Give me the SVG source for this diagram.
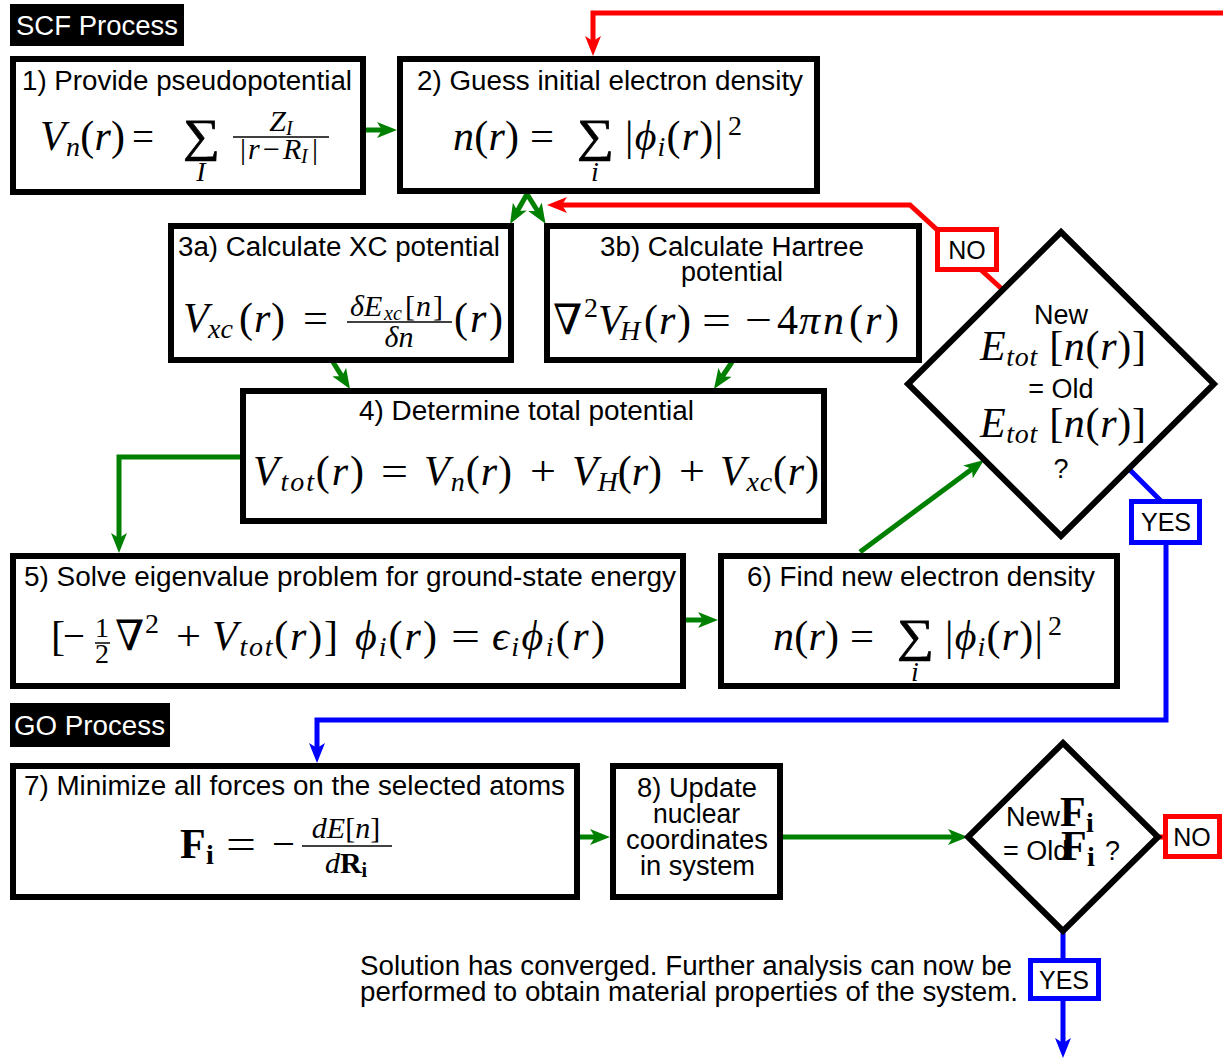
<svg xmlns="http://www.w3.org/2000/svg" width="1223" height="1061" viewBox="0 0 1223 1061">
<style>
.box{fill:#fff;stroke:#000;stroke-width:6}
.t{font-family:"Liberation Sans",Arial,sans-serif;font-size:27px;fill:#000}
.lbl{font-family:"Liberation Sans",Arial,sans-serif;font-size:27px;fill:#fff}
.m{font-family:"Liberation Serif","DejaVu Serif",serif;font-size:42px;font-style:italic;fill:#000}
.u{font-style:normal}
.s{font-size:28px}
.ss{font-size:20px}
.f{font-size:30px}
.bf{font-weight:bold;font-style:normal}
.sym{font-family:"Liberation Serif","DejaVu Serif",serif;font-size:46px;font-style:normal;stroke:#000;stroke-width:0.7}
.fl{stroke:#000;stroke-width:1.5}
.g{stroke:#008000;stroke-width:5;fill:none}
.r{stroke:#ff0000;stroke-width:5;fill:none}
.b{stroke:#0000ff;stroke-width:5;fill:none}
.rb{fill:#fff;stroke:#ff0000;stroke-width:5}
.bb{fill:#fff;stroke:#0000ff;stroke-width:5}
.yn{font-family:"Liberation Sans",Arial,sans-serif;font-size:25px;fill:#000;text-anchor:middle}
</style>
<defs>
<marker id="ag" markerUnits="userSpaceOnUse" markerWidth="22" markerHeight="16" refX="5" refY="8" orient="auto"><path d="M0,0 L20,8 L0,16 L5,8 z" fill="#008000"/></marker>
<marker id="ar" markerUnits="userSpaceOnUse" markerWidth="22" markerHeight="16" refX="5" refY="8" orient="auto"><path d="M0,0 L20,8 L0,16 L5,8 z" fill="#ff0000"/></marker>
<marker id="ab" markerUnits="userSpaceOnUse" markerWidth="22" markerHeight="16" refX="5" refY="8" orient="auto"><path d="M0,0 L20,8 L0,16 L5,8 z" fill="#0000ff"/></marker>
</defs>
<rect width="1223" height="1061" fill="#fff"/>

<g id="connectors">
<path class="g" d="M366,130 H382" marker-end="url(#ag)"/>
<path class="r" d="M1223,13 H593 V41" marker-end="url(#ar)"/>
<path class="g" d="M527,194 L517.4,211" marker-end="url(#ag)"/>
<path class="g" d="M527,194 L537.6,211" marker-end="url(#ag)"/>
<path class="r" d="M1003,290 L910,205 H562" marker-end="url(#ar)"/>
<path class="g" d="M333,362 L342,376.3" marker-end="url(#ag)"/>
<path class="g" d="M732,362 L722.3,376.5" marker-end="url(#ag)"/>
<path class="g" d="M240,457 H119 V538" marker-end="url(#ag)"/>
<path class="g" d="M686,620 H703" marker-end="url(#ag)"/>
<path class="g" d="M860,552 L972,468.9" marker-end="url(#ag)"/>
<path class="b" d="M1127,467 L1166,506 V720 H317 V748" marker-end="url(#ab)"/>
<path class="g" d="M580,837 H595" marker-end="url(#ag)"/>
<path class="g" d="M783,837 H953" marker-end="url(#ag)"/>
<path class="r" d="M1158,837 H1166"/>
<path class="b" d="M1063,932 V1043" marker-end="url(#ab)"/>
</g>

<g id="scf-label">
<rect x="10" y="4" width="174" height="42" fill="#000"/>
<text class="lbl" x="16" y="35" textLength="162" lengthAdjust="spacingAndGlyphs">SCF Process</text>
</g>

<g id="node1">
<rect class="box" x="13" y="59" width="350" height="133"/>
<text class="t" x="22" y="90" textLength="330" lengthAdjust="spacingAndGlyphs">1) Provide pseudopotential</text>
<text class="m" x="40" y="150" textLength="85">V<tspan class="s" dy="6">n</tspan><tspan class="u" dy="-6">(</tspan>r<tspan class="u">)</tspan></text>
<text class="m u" x="132" y="150" textLength="22" lengthAdjust="spacingAndGlyphs">=</text>
<text class="sym" x="183" y="151" textLength="37" lengthAdjust="spacingAndGlyphs">∑</text>
<text class="m s" x="201" y="181" text-anchor="middle">I</text>
<text class="m f" x="281" y="131" text-anchor="middle">Z<tspan class="ss" dy="4">I</tspan></text>
<line class="fl" x1="233" y1="137" x2="329" y2="137"/>
<text class="m f" y="159"><tspan class="u" x="240">|</tspan><tspan x="248">r</tspan><tspan class="u" x="263">−</tspan><tspan x="283">R</tspan><tspan class="ss" x="301" dy="4">I</tspan><tspan class="u" x="312" dy="-4">|</tspan></text>
</g>

<g id="node2">
<rect class="box" x="400" y="59" width="417" height="132"/>
<text class="t" x="417" y="90" textLength="386" lengthAdjust="spacingAndGlyphs">2) Guess initial electron density</text>
<text class="m" x="453" y="150" textLength="66">n<tspan class="u">(</tspan>r<tspan class="u">)</tspan></text>
<text class="m u" x="530" y="150" textLength="24" lengthAdjust="spacingAndGlyphs">=</text>
<text class="sym" x="577" y="151" textLength="37" lengthAdjust="spacingAndGlyphs">∑</text>
<text class="m s" x="595" y="181" text-anchor="middle">i</text>
<text class="m" x="625" y="150" textLength="98"><tspan class="u">|</tspan>ϕ<tspan class="s" dy="6">i</tspan><tspan class="u" dy="-6">(</tspan>r<tspan class="u">)|</tspan></text>
<text class="m u s" x="728" y="135">2</text>
</g>

<g id="node3a">
<rect class="box" x="171" y="226" width="340" height="134"/>
<text class="t" x="178" y="256" textLength="322" lengthAdjust="spacingAndGlyphs">3a) Calculate XC potential</text>
<text class="m" x="183" y="332">V</text>
<text class="m s" x="208" y="338">xc</text>
<text class="m" y="332"><tspan class="u" x="239">(</tspan><tspan x="254">r</tspan><tspan class="u" x="271">)</tspan></text>
<text class="m u" x="303" y="332" textLength="25" lengthAdjust="spacingAndGlyphs">=</text>
<text class="m f" y="316"><tspan x="350">δE</tspan><tspan class="ss" x="384" dy="4">xc</tspan><tspan class="u" x="405" dy="-4">[</tspan><tspan x="416">n</tspan><tspan class="u" x="433">]</tspan></text>
<line class="fl" x1="347" y1="322" x2="452" y2="322"/>
<text class="m f" x="399" y="347" text-anchor="middle">δn</text>
<text class="m" y="332"><tspan class="u" x="454">(</tspan><tspan x="470">r</tspan><tspan class="u" x="489">)</tspan></text>
</g>

<g id="node3b">
<rect class="box" x="547" y="226" width="372" height="134"/>
<text class="t" x="600" y="256" textLength="264" lengthAdjust="spacingAndGlyphs">3b) Calculate Hartree</text>
<text class="t" x="681" y="281" textLength="102" lengthAdjust="spacingAndGlyphs">potential</text>
<text class="m" y="334"><tspan class="u" x="553">∇</tspan><tspan class="u s" x="584" dy="-17">2</tspan><tspan x="598" dy="17">V</tspan><tspan class="s" x="620" dy="6">H</tspan><tspan class="u" x="644" dy="-6">(</tspan><tspan x="659">r</tspan><tspan class="u" x="677">)</tspan></text>
<text class="m u" x="702" y="334" textLength="29" lengthAdjust="spacingAndGlyphs">=</text>
<text class="m u" x="745" y="334" textLength="27" lengthAdjust="spacingAndGlyphs">−</text>
<text class="m" y="334"><tspan class="u" x="777">4</tspan><tspan x="799">π</tspan><tspan x="823">n</tspan><tspan class="u" x="849">(</tspan><tspan x="865">r</tspan><tspan class="u" x="885">)</tspan></text>
</g>

<g id="node4">
<rect class="box" x="243" y="391" width="581" height="130"/>
<text class="t" x="359" y="420" textLength="335" lengthAdjust="spacingAndGlyphs">4) Determine total potential</text>
<text class="m" x="253" y="485" textLength="111">V<tspan class="s" dy="6">tot</tspan><tspan class="u" dy="-6">(</tspan>r<tspan class="u">)</tspan></text>
<text class="m u" x="381" y="485" textLength="27" lengthAdjust="spacingAndGlyphs">=</text>
<text class="m" x="424" y="485" textLength="88">V<tspan class="s" dy="6">n</tspan><tspan class="u" dy="-6">(</tspan>r<tspan class="u">)</tspan></text>
<text class="m u" x="530" y="485" textLength="26" lengthAdjust="spacingAndGlyphs">+</text>
<text class="m" x="572" y="485" textLength="90">V<tspan class="s" dy="6">H</tspan><tspan class="u" dy="-6">(</tspan>r<tspan class="u">)</tspan></text>
<text class="m u" x="679" y="485" textLength="26" lengthAdjust="spacingAndGlyphs">+</text>
<text class="m" x="720" y="485" textLength="99">V<tspan class="s" dy="6">xc</tspan><tspan class="u" dy="-6">(</tspan>r<tspan class="u">)</tspan></text>
</g>

<g id="node5">
<rect class="box" x="13" y="556" width="670" height="130"/>
<text class="t" x="24" y="586" textLength="652" lengthAdjust="spacingAndGlyphs">5) Solve eigenvalue problem for ground-state energy</text>
<text class="m u" x="51" y="650">[</text>
<text class="m u" x="63" y="650" textLength="22" lengthAdjust="spacingAndGlyphs">−</text>
<text class="m u s" x="102" y="637" text-anchor="middle">1</text>
<line class="fl" x1="95" y1="643" x2="110" y2="643"/>
<text class="m u s" x="102" y="663" text-anchor="middle">2</text>
<text class="m u" y="650"><tspan x="115">∇</tspan><tspan class="s" x="145" dy="-17">2</tspan></text>
<text class="m u" x="176" y="650" textLength="25" lengthAdjust="spacingAndGlyphs">+</text>
<text class="m" x="212" y="650" textLength="126">V<tspan class="s" dy="6">tot</tspan><tspan class="u" dy="-6">(</tspan>r<tspan class="u">)]</tspan></text>
<text class="m" x="355" y="650" textLength="82">ϕ<tspan class="s" dy="6">i</tspan><tspan class="u" dy="-6">(</tspan>r<tspan class="u">)</tspan></text>
<text class="m u" x="451" y="650" textLength="29" lengthAdjust="spacingAndGlyphs">=</text>
<text class="m" x="492" y="650" textLength="113">ϵ<tspan class="s" dy="6">i</tspan><tspan dy="-6">ϕ</tspan><tspan class="s" dy="6">i</tspan><tspan class="u" dy="-6">(</tspan>r<tspan class="u">)</tspan></text>
</g>

<g id="node6">
<rect class="box" x="721" y="556" width="396" height="130"/>
<text class="t" x="747" y="586" textLength="348" lengthAdjust="spacingAndGlyphs">6) Find new electron density</text>
<text class="m" x="773" y="650" textLength="66">n<tspan class="u">(</tspan>r<tspan class="u">)</tspan></text>
<text class="m u" x="850" y="650" textLength="24" lengthAdjust="spacingAndGlyphs">=</text>
<text class="sym" x="897" y="651" textLength="37" lengthAdjust="spacingAndGlyphs">∑</text>
<text class="m s" x="915" y="681" text-anchor="middle">i</text>
<text class="m" x="945" y="650" textLength="98"><tspan class="u">|</tspan>ϕ<tspan class="s" dy="6">i</tspan><tspan class="u" dy="-6">(</tspan>r<tspan class="u">)|</tspan></text>
<text class="m u s" x="1048" y="635">2</text>
</g>

<g id="decision1">
<polygon points="1061,232 1214,384 1061,536 908,384" fill="#fff" stroke="#000" stroke-width="6"/>
<text class="t" x="1061" y="324" text-anchor="middle" font-size="24">New</text>
<text class="m" x="980" y="360" textLength="166">E<tspan class="s" dy="6">tot</tspan><tspan class="u" dy="-6"> [</tspan>n<tspan class="u">(</tspan>r<tspan class="u">)]</tspan></text>
<text class="t" x="1061" y="398" text-anchor="middle" font-size="24">= Old</text>
<text class="m" x="980" y="437" textLength="166">E<tspan class="s" dy="6">tot</tspan><tspan class="u" dy="-6"> [</tspan>n<tspan class="u">(</tspan>r<tspan class="u">)]</tspan></text>
<text class="t" x="1061" y="478" text-anchor="middle" font-size="24">?</text>
</g>

<g id="label-no1">
<rect class="rb" x="937.5" y="229.5" width="59" height="40"/>
<text class="yn" x="967" y="259">NO</text>
</g>
<g id="label-yes1">
<rect class="bb" x="1131.5" y="501.5" width="68" height="41"/>
<text class="yn" x="1166" y="531">YES</text>
</g>

<g id="go-label">
<rect x="10" y="703" width="160" height="44" fill="#000"/>
<text class="lbl" x="14" y="735" textLength="151" lengthAdjust="spacingAndGlyphs">GO Process</text>
</g>

<g id="node7">
<rect class="box" x="13" y="766" width="564" height="131"/>
<text class="t" x="24" y="795" textLength="541" lengthAdjust="spacingAndGlyphs">7) Minimize all forces on the selected atoms</text>
<text class="m" y="858"><tspan class="bf" x="180">F</tspan><tspan class="bf s" x="206" dy="6">i</tspan></text>
<text class="m u" x="226" y="858" textLength="30" lengthAdjust="spacingAndGlyphs">=</text>
<text class="m u" x="272" y="858" textLength="23" lengthAdjust="spacingAndGlyphs">−</text>
<text class="m f" x="346" y="838" text-anchor="middle">dE<tspan class="u">[</tspan>n<tspan class="u">]</tspan></text>
<line class="fl" x1="302" y1="846" x2="392" y2="846"/>
<text class="m f" x="346" y="873" text-anchor="middle">d<tspan class="bf">R</tspan><tspan class="bf ss" dy="4">i</tspan></text>
</g>

<g id="node8">
<rect class="box" x="613" y="766" width="167" height="131"/>
<text class="t" x="637" y="797" textLength="120" lengthAdjust="spacingAndGlyphs">8) Update</text>
<text class="t" x="653" y="823" textLength="87" lengthAdjust="spacingAndGlyphs">nuclear</text>
<text class="t" x="626" y="849" textLength="142" lengthAdjust="spacingAndGlyphs">coordinates</text>
<text class="t" x="640" y="875" textLength="115" lengthAdjust="spacingAndGlyphs">in system</text>
</g>

<g id="decision2">
<polygon points="1063,743 1158,837 1063,931 968,837" fill="#fff" stroke="#000" stroke-width="6"/>
<text class="t" x="1006" y="826" font-size="21">New</text>
<text class="m" y="826" font-size="40"><tspan class="bf" x="1060">F</tspan><tspan class="bf s" x="1086" dy="6">i</tspan></text>
<text class="t" x="1003" y="860" font-size="21">= Old</text>
<text class="m" y="860" font-size="40"><tspan class="bf" x="1061">F</tspan><tspan class="bf s" x="1087" dy="6">i</tspan></text>
<text class="t" x="1105" y="860" font-size="23">?</text>
</g>

<g id="label-no2">
<rect class="rb" x="1165.5" y="816.5" width="54" height="40"/>
<text class="yn" x="1192" y="846">NO</text>
</g>
<g id="label-yes2">
<rect class="bb" x="1030.5" y="960.5" width="68" height="38"/>
<text class="yn" x="1064" y="989">YES</text>
</g>

<g id="conclusion">
<text class="t" x="360" y="975" font-size="26" textLength="652" lengthAdjust="spacingAndGlyphs">Solution has converged. Further analysis can now be</text>
<text class="t" x="360" y="1001" font-size="26" textLength="658" lengthAdjust="spacingAndGlyphs">performed to obtain material properties of the system.</text>
</g>
</svg>
